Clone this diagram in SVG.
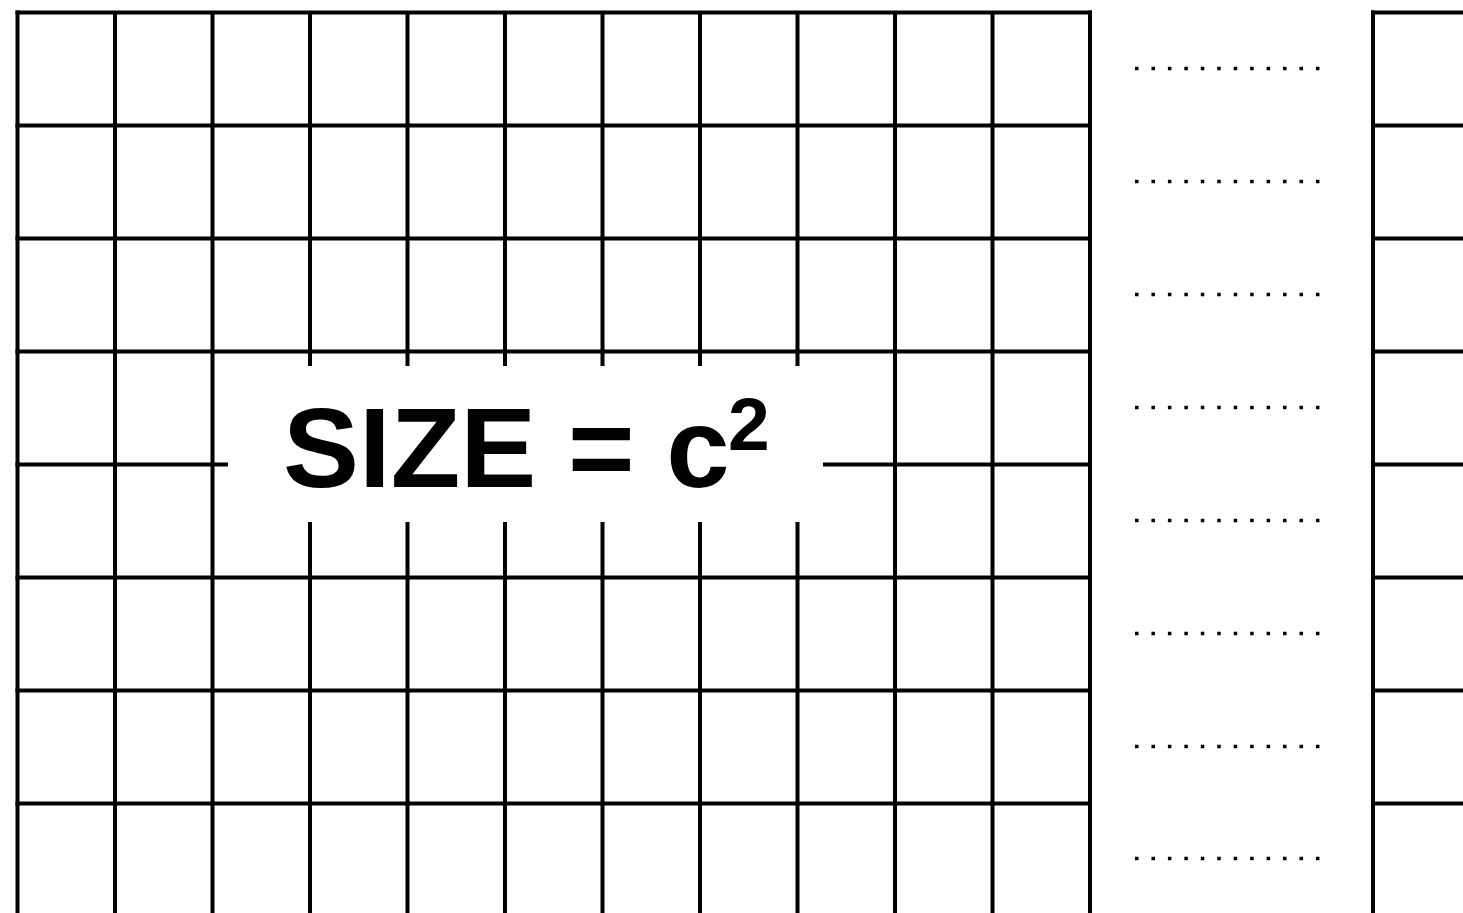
<svg xmlns="http://www.w3.org/2000/svg" width="1463" height="913" viewBox="0 0 1463 913">
<style>
.g{stroke:#000;stroke-width:4;fill:none}
.d{stroke:#000;stroke-width:3.5;stroke-dasharray:3.5 12.95}
.t{font-family:"Liberation Sans",Arial,sans-serif;font-weight:bold;fill:#000}
</style>
<rect width="1463" height="913" fill="#fff"/>
<g id="grid-left" class="g">
<path d="M17.5 10.5V913M115 12.5V913M212.5 12.5V913M310 12.5V913M407.5 12.5V913M505 12.5V913M602.5 12.5V913M700 12.5V913M797.5 12.5V913M895 12.5V913M992.5 12.5V913M1090 10.5V913"/>
<path d="M15.5 12.5H1092M15.5 125.5H1092M15.5 238.5H1092M15.5 351.5H1092M15.5 464.5H1092M15.5 577.5H1092M15.5 690.5H1092M15.5 803.5H1092"/>
</g>
<g id="grid-right" class="g">
<path d="M1373 10.5V913"/>
<path d="M1371 12.5H1463M1371 125.5H1463M1371 238.5H1463M1371 351.5H1463M1371 464.5H1463M1371 577.5H1463M1371 690.5H1463M1371 803.5H1463"/>
</g>
<g id="dots" class="d">
<path d="M1135 68.5H1320M1135 181.5H1320M1135 294.5H1320M1135 407.5H1320M1135 520.5H1320M1135 633.5H1320M1135 746.5H1320M1135 858.5H1320"/>
</g>
<g id="label">
<rect x="228" y="366" width="595" height="156" fill="#fff"/>
<text class="t" x="283" y="487" font-size="114">SIZE = c</text>
<text class="t" x="728" y="450" font-size="75">2</text>
</g>
</svg>
